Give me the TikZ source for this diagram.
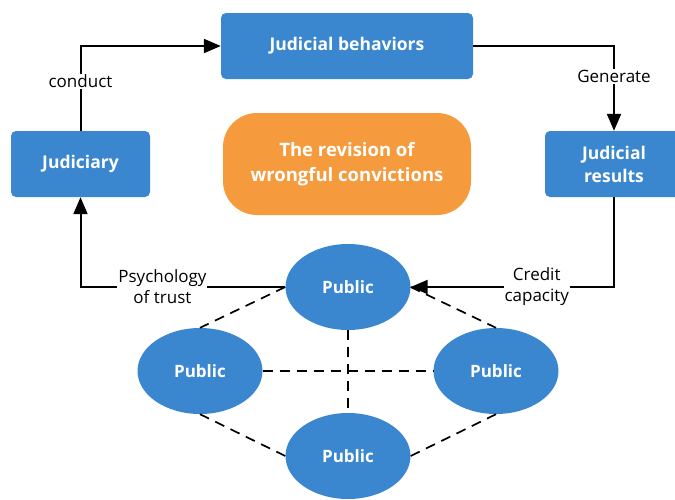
\documentclass[tikz,border=0pt]{standalone}
\usepackage{fontspec}
\setmainfont{Open Sans}
\usetikzlibrary{arrows.meta,shapes.geometric}
\definecolor{jblue}{HTML}{3A87CF}
\definecolor{jorange}{HTML}{F59B3D}
\begin{document}
\begin{tikzpicture}[x=1pt,y=-1pt,
  box/.style={fill=jblue, rounded corners=5pt, text=white, inner sep=0pt,
    font=\fontsize{17.5}{23}\selectfont\bfseries, align=center},
  pub/.style={ellipse, fill=jblue, minimum width=125pt, minimum height=86pt,
    inner sep=0pt, text=white, font=\fontsize{17}{20}\selectfont\bfseries},
  conn/.style={line width=2pt, -{Triangle[length=17pt,width=14pt]}},
  dl/.style={line width=1.7pt, dash pattern=on 10pt off 7pt},
  lab/.style={fill=white, inner sep=1pt, font=\fontsize{17}{21}\selectfont, align=center}
]
\useasboundingbox (0,0) rectangle (675,499);
\node[box, minimum width=252pt, minimum height=66pt] (beh) at (347,46) {Judicial behaviors};
\node[box, minimum width=139pt, minimum height=66pt] (jud) at (80.5,164) {Judiciary};
\node[box, minimum width=138pt, minimum height=66pt] (res) at (614,164) {Judicial\\results};
\node[fill=jorange, rounded corners=34pt, minimum width=248pt, minimum height=102pt,
  text=white, align=center, inner sep=0pt, font=\fontsize{18.5}{25}\selectfont\bfseries]
  (rev) at (347,164) {The revision of\\wrongful convictions};
\node[pub] (pt) at (348,287) {Public};
\node[pub] (pl) at (200,371) {Public};
\node[pub] (pr) at (496,371) {Public};
\node[pub] (pb) at (348,456) {Public};
\draw[dl] (pt.west) -- (pl.north);
\draw[dl] (pt.east) -- (pr.north);
\draw[dl] (pt.south) -- (pb.north);
\draw[dl] (pl.east) -- (pr.west);
\draw[dl] (pl.south) -- (pb.west);
\draw[dl] (pr.south) -- (pb.east);
\draw[conn] (jud.north) |- node[lab, pos=0.29]{conduct} (beh.west);
\draw[conn] (beh.east) -| node[lab, pos=0.68]{Generate} (res.north);
\draw[conn] (res.south) |- node[lab, pos=0.69]{Credit\\capacity} (pt.east);
\draw[conn] (pt.west) -| node[lab, pos=0.3]{Psychology\\of trust} (jud.south);
\end{tikzpicture}
\end{document}
